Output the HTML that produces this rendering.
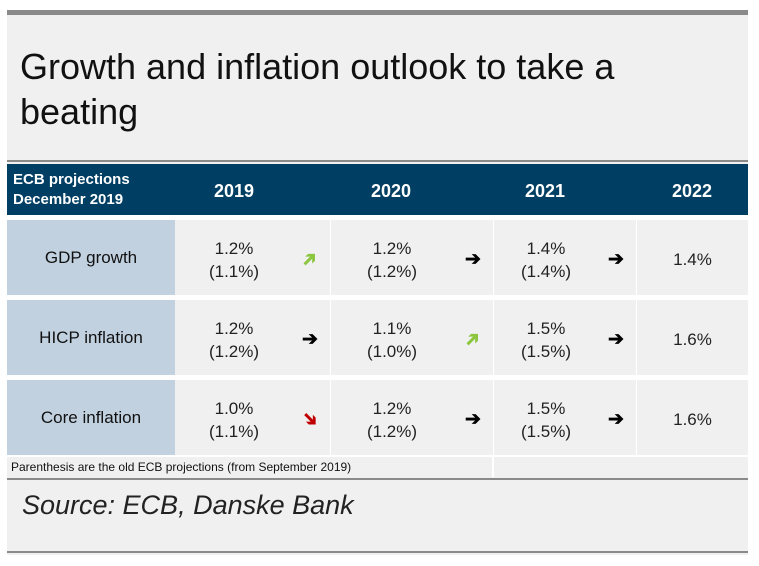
<!DOCTYPE html>
<html><head><meta charset="utf-8"><style>
body{margin:0;width:759px;height:566px;background:#fff;font-family:"Liberation Sans",sans-serif;position:relative;overflow:hidden}
div{position:absolute;box-sizing:border-box}
.c{display:flex;align-items:center;justify-content:center;text-align:center}
.lab{background:#c1d1df;font-size:17px;color:#111;left:7px;width:168px}
.cell{background:#f0f0f0;font-size:17px;color:#222;line-height:23px}
.ar{font-size:19px;font-weight:bold}
</style></head><body>
<div style="left:7px;top:10px;width:741px;height:545px;background:#f0f0f0"></div>
<div style="left:7px;top:10px;width:741px;height:5px;background:#8a8a8a"></div>
<div style="left:20px;top:44px;width:720px;font-size:36px;line-height:45px;color:#111">Growth and inflation outlook to take a beating</div>
<div style="left:7px;top:160px;width:741px;height:2px;background:#8a8a8a"></div>
<div style="left:7px;top:164px;width:741px;height:51px;background:#003f63;color:#fff;font-weight:bold">
 <div style="left:6px;top:6px;font-size:15px;line-height:20px">ECB projections<br>December 2019</div>
 <div class="c" style="left:168px;width:118px;top:2px;height:51px;font-size:18px">2019</div>
 <div class="c" style="left:323px;width:122px;top:2px;height:51px;font-size:18px">2020</div>
 <div class="c" style="left:486px;width:104px;top:2px;height:51px;font-size:18px">2021</div>
 <div class="c" style="left:629px;width:112px;top:2px;height:51px;font-size:18px">2022</div>
</div>
<div style="left:7px;top:215px;width:741px;height:262px;background:#fff"></div>
<div id="rows"></div>
<div style="left:7px;top:457px;width:485px;height:20px;background:#f0f0f0;font-size:12px;line-height:20px;padding-left:4px;color:#111">Parenthesis are the old ECB projections (from September 2019)</div>
<div style="left:494px;top:457px;width:254px;height:20px;background:#f0f0f0"></div>
<div style="left:7px;top:478px;width:741px;height:2px;background:#8a8a8a"></div>
<div style="left:22px;top:490px;font-size:27px;font-style:italic;color:#222">Source: ECB, Danske Bank</div>
<div style="left:7px;top:551px;width:741px;height:2px;background:#8a8a8a"></div>
<script>
const labels=["GDP growth","HICP inflation","Core inflation"];
const newVals=[["1.2%","1.2%","1.4%","1.4%"],["1.2%","1.1%","1.5%","1.6%"],["1.0%","1.2%","1.5%","1.6%"]];
const oldVals=[["1.1%","1.2%","1.4%"],["1.2%","1.0%","1.5%"],["1.1%","1.2%","1.5%"]];
const arrows=[["up","right","right"],["right","up","right"],["down","right","right"]];
const tops=[220,300,380], h=75;
const cols=[[175,155],[331,162],[494,142],[637,111]];
const valW=[118,122,104,111];
const root=document.getElementById('rows');
function mk(cls,style,html){const d=document.createElement('div');d.className=cls;d.style.cssText=style;d.innerHTML=html||'';root.appendChild(d);return d;}
labels.forEach((l,r)=>{
 const t=tops[r];
 const lb=mk('c lab',`top:${t}px;height:${h}px`,l);
 
 
 cols.forEach((c,i)=>{
  const cell=mk('cell',`left:${c[0]}px;top:${t}px;width:${c[1]}px;height:${h}px`);
  
  
  const v=document.createElement('div');v.className='c';
  v.style.cssText=`left:0;top:2px;width:${valW[i]}px;height:${h}px`;
  v.innerHTML=newVals[r][i]+(i<3?'<br>('+oldVals[r][i]+')':'');
  
  
  cell.appendChild(v);
  if(i<3){
   const a=document.createElement('div');a.className='c ar';
   const k=arrows[r][i];
   const col=k==='up'?'#8cc63f':k==='down'?'#c00000':'#000';
   const rot=k==='up'?-45:k==='down'?45:0;
   a.style.cssText=`left:${c[1]-40}px;top:2px;width:40px;height:${h}px;color:${col}`;
   a.innerHTML=`<span style="display:inline-block;transform:rotate(${rot}deg)">&#10132;</span>`;
   
   
   cell.appendChild(a);
  }
 });
});
</script>
</body></html>
